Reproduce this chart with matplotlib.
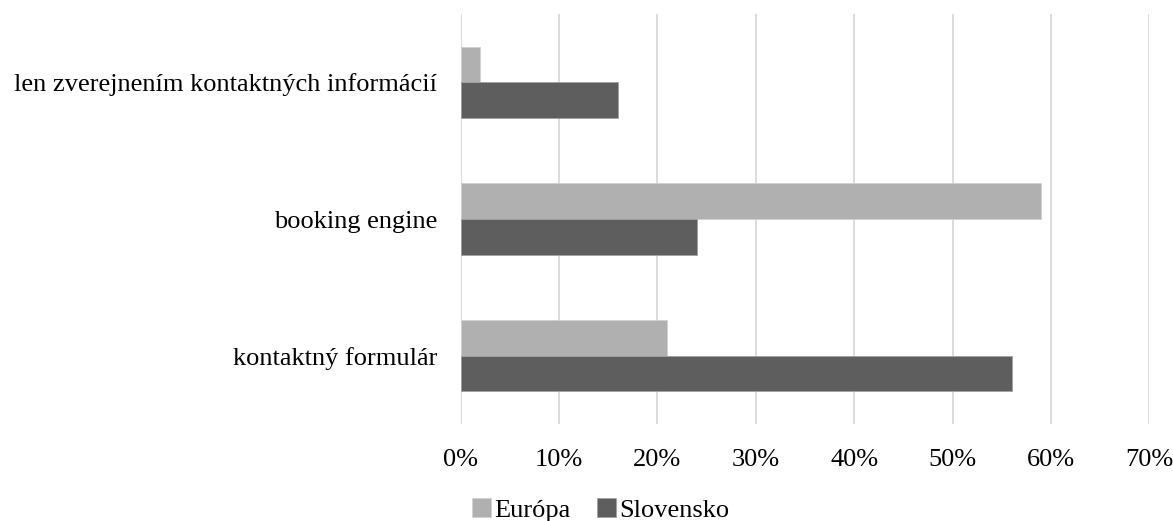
import matplotlib.pyplot as plt
import numpy as np

categories = ['kontaktný formulár', 'booking engine', 'len zverejnením kontaktných informácií']
europa = [21, 59, 2]
slovensko = [56, 24, 16]
ticks = [0, 10, 20, 30, 40, 50, 60, 70]
tick_labels = ['0%', '10%', '20%', '30%', '40%', '50%', '60%', '70%']

plt.rcParams['font.family'] = ['Liberation Serif', 'DejaVu Serif']

fig = plt.figure(figsize=(11.73, 5.21), dpi=100)
ax = fig.add_axes([0.3928, 0.1862, 0.587, 0.7869])

y = np.arange(len(categories))
h = 0.26
ax.barh(y + h / 2, europa, height=h, color='#b0b0b0', edgecolor='#d0d0d0',
        linewidth=0.6, label='Európa', zorder=3)
ax.barh(y - h / 2, slovensko, height=h, color='#5e5e5e', edgecolor='#a0a0a0',
        linewidth=0.6, label='Slovensko', zorder=3)

ax.set_xlim(0, 70)
ax.set_ylim(-0.5, 2.5)
ax.set_xticks(ticks)
ax.set_xticklabels(tick_labels)
ax.set_yticks(y)
ax.set_yticklabels(categories)
ax.tick_params(axis='both', length=0, labelsize=19, colors='black')
ax.tick_params(axis='x', pad=18)
ax.tick_params(axis='y', pad=17)
ax.grid(axis='x', color='#d9d9d9', linewidth=1.3, zorder=0)
for s in ax.spines.values():
    s.set_visible(False)

fig.legend(loc='center', bbox_to_anchor=(601 / 1173, 1 - 510 / 521), ncol=2,
           frameon=False, fontsize=19, handlelength=0.7, handleheight=0.7,
           handletextpad=0.15, columnspacing=1.0, borderpad=0)

fig.savefig('out.png', dpi=100)
